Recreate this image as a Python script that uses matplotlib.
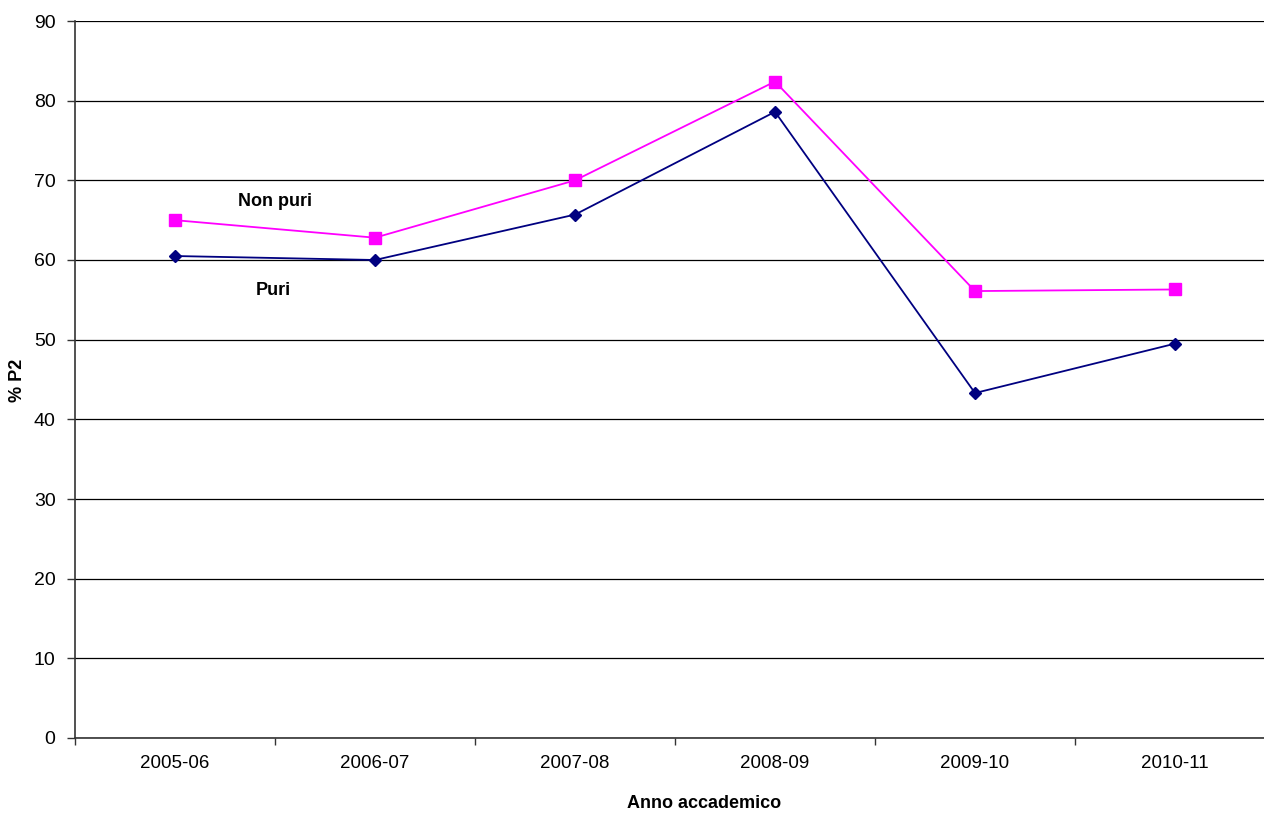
import matplotlib
matplotlib.use("Agg")
import matplotlib.pyplot as plt

plt.rcParams['font.family'] = ['Liberation Sans', 'DejaVu Sans']

# data
anni = ['2005-06', '2006-07', '2007-08', '2008-09', '2009-10', '2010-11']
puri = [60.5, 60.0, 65.7, 78.6, 43.3, 49.5]
non_puri = [65.0, 62.8, 70.0, 82.4, 56.1, 56.3]

fig = plt.figure(figsize=(12.64, 8.15), dpi=100)
# plot area runs past the right edge like in the original
ax = fig.add_axes([75/1264, 77/815, 1200/1264, 717/815])

x = list(range(len(anni)))
ax.plot(x, non_puri, color='#ff00ff', lw=1.3, marker='s', ms=9, zorder=3)
ax.plot(x, puri, color='#000080', lw=1.3, marker='D', ms=6.5, zorder=3)

ax.set_xlim(-0.5, len(anni) - 0.5)
ax.set_ylim(0, 90)
ax.set_yticks(range(0, 91, 10))
ax.set_xticks(x)
ax.set_xticklabels(anni, fontsize=13.5)
ax.set_xticks([i + 0.5 for i in range(-1, len(anni))], minor=True)
ax.tick_params(axis='x', which='major', length=0, pad=12)
ax.tick_params(axis='x', which='minor', length=5, width=1, color='#333333')
ax.tick_params(axis='y', labelsize=14, length=6, width=1, color='#333333', pad=8)

ax.grid(axis='y', color='black', lw=0.9)
ax.set_axisbelow(True)
for s in ['top', 'right']:
    ax.spines[s].set_visible(False)
ax.spines['left'].set_color('#333333')
ax.spines['bottom'].set_color('#333333')
ax.spines['left'].set_linewidth(1.2)
ax.spines['bottom'].set_linewidth(1.2)

ax.text(0.5, 67.4, 'Non puri', fontsize=13, fontweight='bold', ha='center', va='center')
ax.text(0.49, 56.2, 'Puri', fontsize=13, fontweight='bold', ha='center', va='center')

fig.text(17/1264, 1 - 380/815, '% P2', fontsize=13, fontweight='bold', rotation=90, ha='center', va='center')
fig.text(704/1264, 1 - 803/815, 'Anno accademico', fontsize=13, fontweight='bold', ha='center', va='center')

fig.savefig('out.png', dpi=100)
